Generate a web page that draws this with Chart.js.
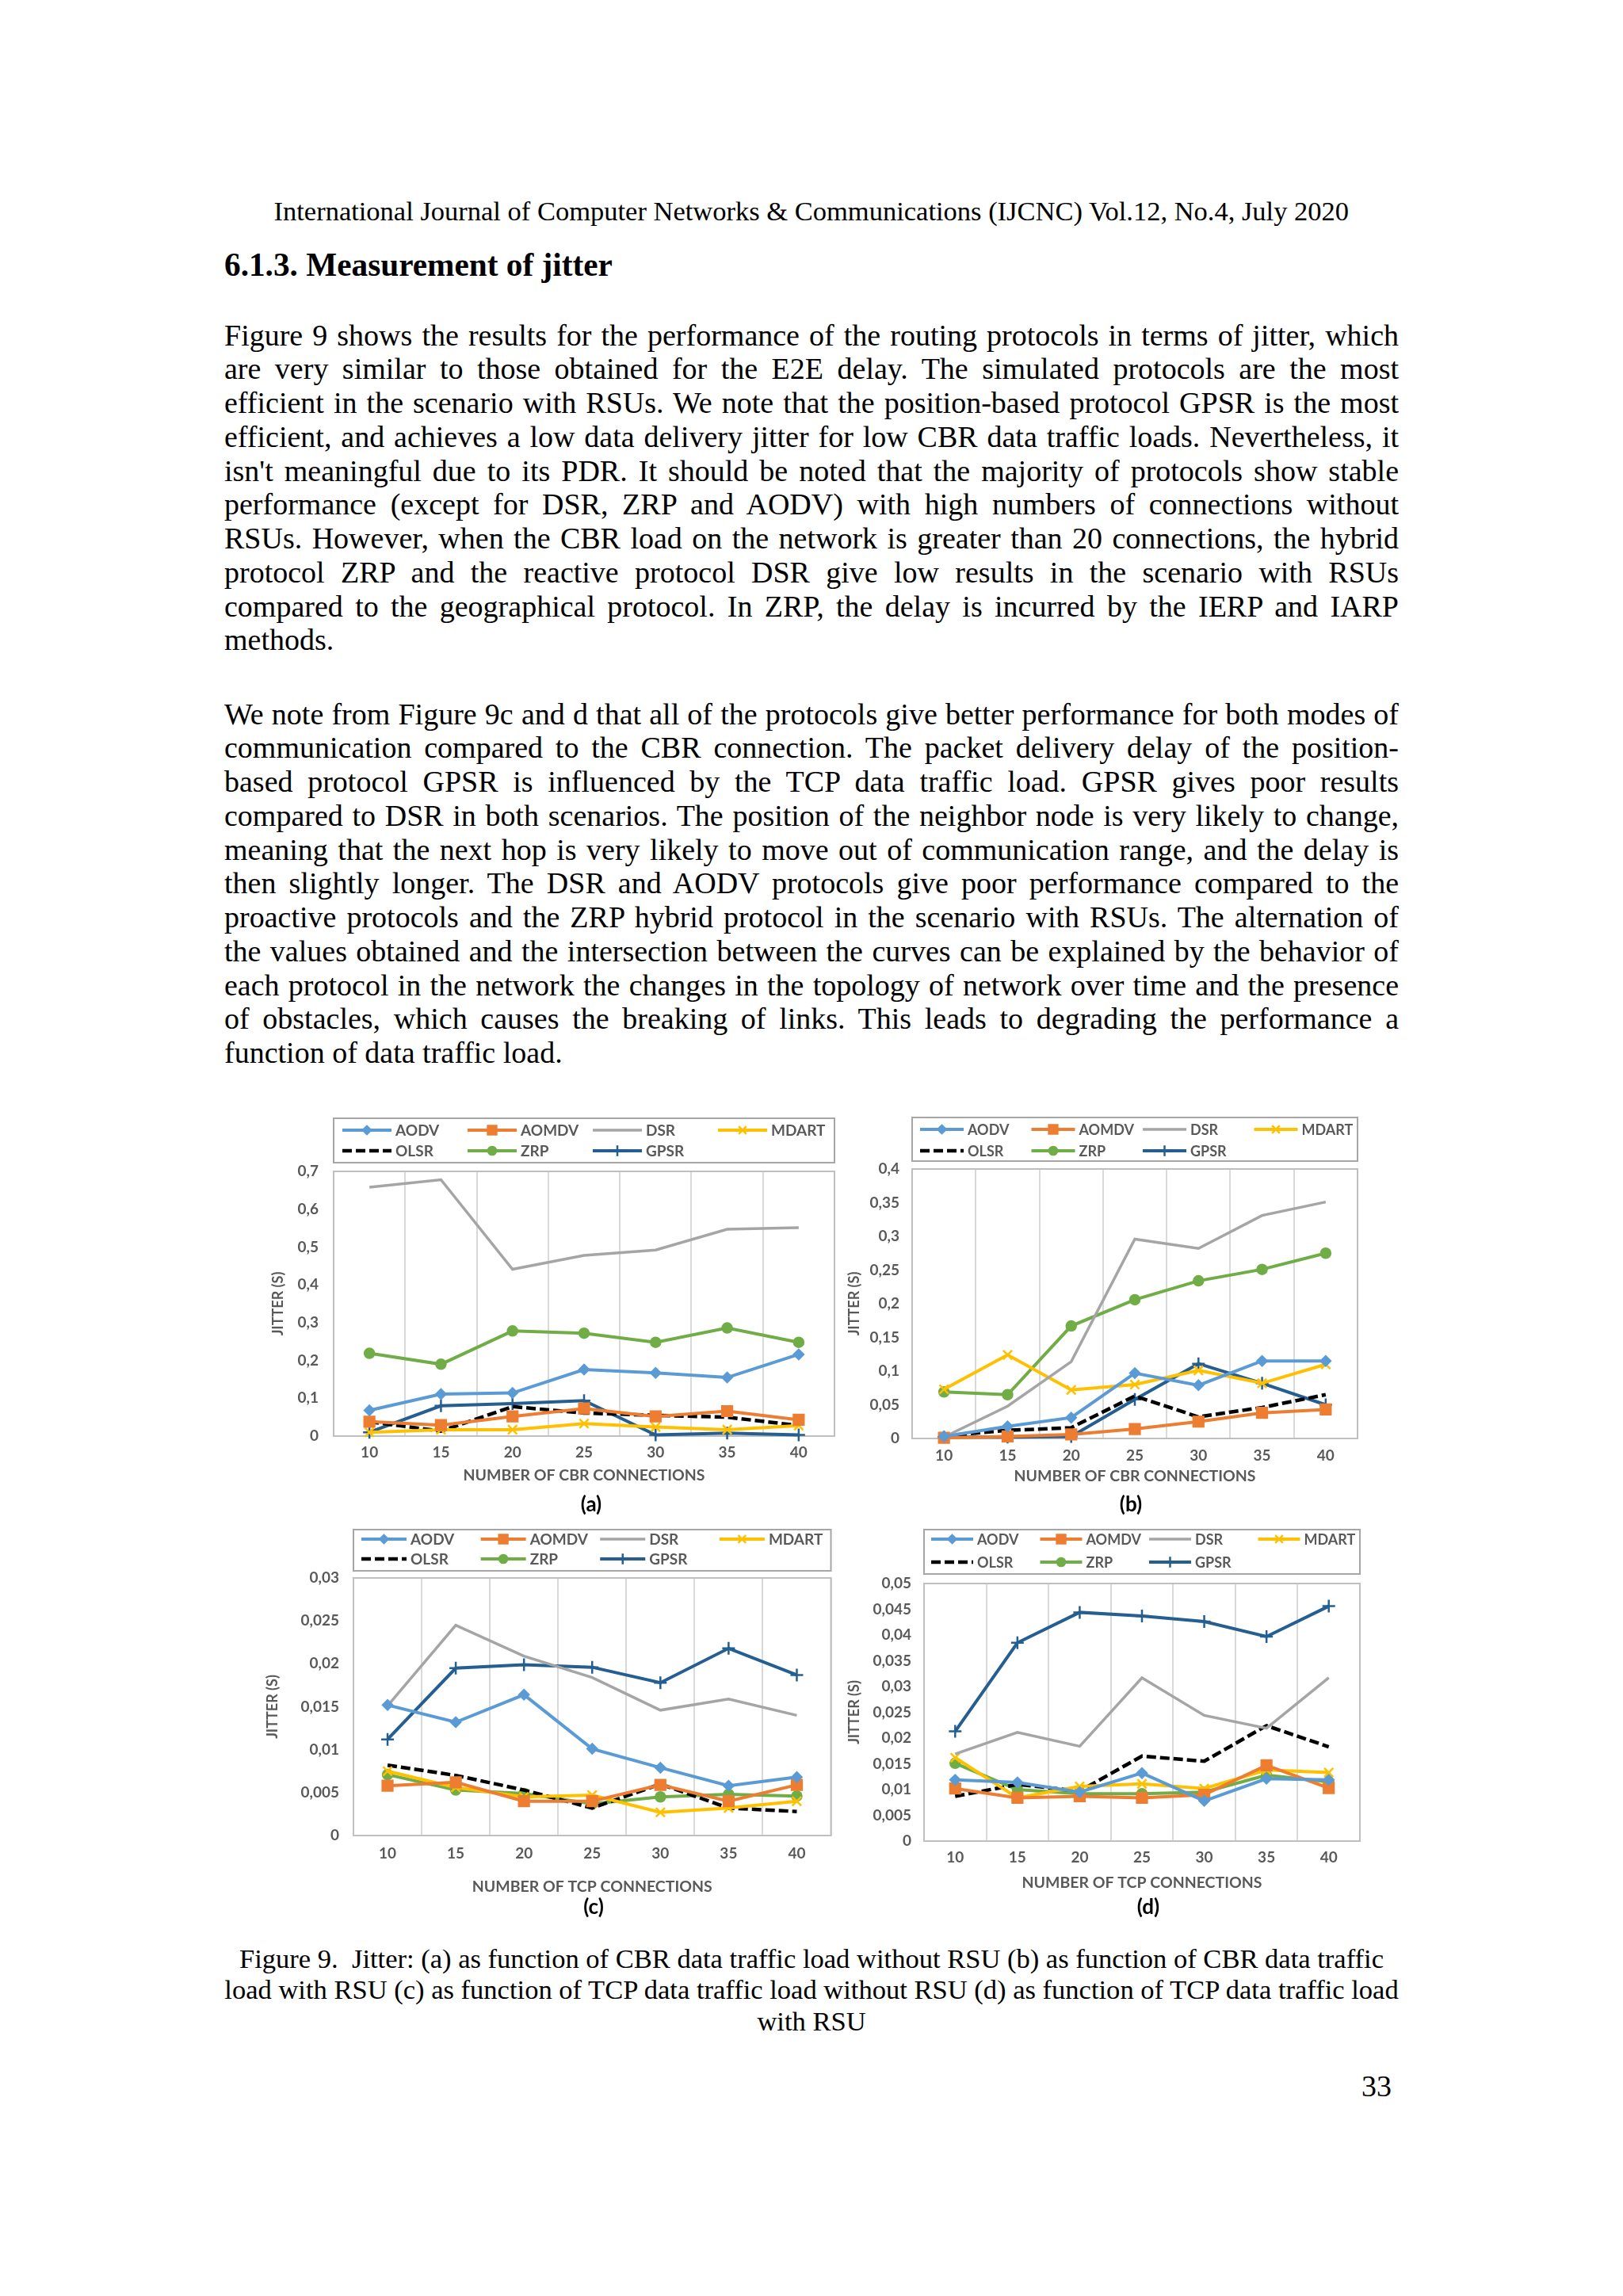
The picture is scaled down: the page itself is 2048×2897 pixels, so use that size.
<!DOCTYPE html>
<html lang="en">
<head>
<meta charset="UTF-8">
<title>Figure 9 - Jitter</title>
<script src="https://cdn.jsdelivr.net/npm/chart.js"></script>
<style>
  html, body { margin: 0; padding: 0; background: #fff; }
  #page { position: relative; width: 2048px; height: 2897px; overflow: hidden;
          font-family: "Liberation Serif", "Times New Roman", serif; color: #000; }
  .abs { position: absolute; white-space: pre; line-height: 1.15; }
  .line { position: absolute; left: 283px; width: 1482px; height: 42.75px; line-height: 42.75px; }
  .just { text-align: justify; text-align-last: justify; }
  canvas { position: absolute; }
  .tag { position: absolute; font-family: Lato, sans-serif; font-weight: bold; font-size: 26px;
         transform: translate(-50%, -50%); white-space: nowrap; }
</style>
</head>
<body>
<div id="page"></div>
<script>
// x categories and series order (same for all four panels)
const connections = ['10', '15', '20', '25', '30', '35', '40'];
const protocols = ['AODV', 'AOMDV', 'DSR', 'MDART', 'OLSR', 'ZRP', 'GPSR'];

// values per protocol, in the order above
const jitterCbrNoRsu = [
  [0.068, 0.111, 0.114, 0.176, 0.167, 0.155, 0.216],
  [0.038, 0.029, 0.052, 0.073, 0.052, 0.066, 0.043],
  [0.658, 0.678, 0.441, 0.478, 0.492, 0.547, 0.551],
  [0.010, 0.017, 0.017, 0.033, 0.024, 0.017, 0.028],
  [0.038, 0.013, 0.078, 0.061, 0.055, 0.050, 0.028],
  [0.219, 0.190, 0.278, 0.272, 0.248, 0.286, 0.248],
  [0.010, 0.080, 0.086, 0.094, 0.003, 0.008, 0.003]
];
const jitterCbrRsu = [
  [0.003, 0.018, 0.031, 0.097, 0.079, 0.115, 0.115],
  [0.001, 0.003, 0.006, 0.014, 0.025, 0.038, 0.043],
  [0.002, 0.048, 0.114, 0.296, 0.282, 0.331, 0.351],
  [0.073, 0.124, 0.072, 0.080, 0.101, 0.082, 0.110],
  [0.004, 0.012, 0.016, 0.063, 0.032, 0.046, 0.065],
  [0.069, 0.065, 0.167, 0.206, 0.234, 0.251, 0.275],
  [0.002, 0.002, 0.003, 0.058, 0.111, 0.082, 0.050]
];
const jitterTcpNoRsu = [
  [0.0152, 0.0132, 0.0164, 0.0101, 0.0079, 0.0058, 0.0068],
  [0.0058, 0.0062, 0.0040, 0.0040, 0.0059, 0.0040, 0.0059],
  [0.0151, 0.0245, 0.0209, 0.0184, 0.0146, 0.0159, 0.0140],
  [0.0075, 0.0056, 0.0045, 0.0047, 0.0027, 0.0032, 0.0040],
  [0.0082, 0.0070, 0.0053, 0.0032, 0.0060, 0.0032, 0.0028],
  [0.0071, 0.0053, 0.0049, 0.0037, 0.0045, 0.0048, 0.0046],
  [0.0112, 0.0195, 0.0199, 0.0196, 0.0178, 0.0218, 0.0187]
];
const jitterTcpRsu = [
  [0.0119, 0.0114, 0.0095, 0.0132, 0.0078, 0.0121, 0.0119],
  [0.0102, 0.0084, 0.0087, 0.0084, 0.0090, 0.0147, 0.0103],
  [0.0169, 0.0211, 0.0184, 0.0317, 0.0244, 0.0219, 0.0317],
  [0.0162, 0.0084, 0.0106, 0.0111, 0.0102, 0.0138, 0.0133],
  [0.0087, 0.0110, 0.0097, 0.0165, 0.0155, 0.0224, 0.0183],
  [0.0151, 0.0100, 0.0092, 0.0092, 0.0095, 0.0128, 0.0115],
  [0.0213, 0.0385, 0.0444, 0.0437, 0.0426, 0.0397, 0.0456]
];

// y axis ranges
const yMaxes = [0.7, 0.4, 0.03, 0.05];
const yStepSizes = [0.1, 0.05, 0.005, 0.005];
const xTitles = ['NUMBER OF CBR CONNECTIONS', 'NUMBER OF CBR CONNECTIONS',
                 'NUMBER OF TCP CONNECTIONS', 'NUMBER OF TCP CONNECTIONS'];
const panelTags = ['(a)', '(b)', '(c)', '(d)'];

// series styles
const seriesColors = ['#5B9BD5', '#ED7D31', '#A5A5A5', '#FFC000', '#000000', '#70AD47', '#255E91'];
const markerStyles = ['rectRot', 'rect', false, 'crossRot', false, 'circle', 'cross'];
const markerSizes = [6, 9, 0, 8, 0, 6, 8];
const lineWidths = [4, 4, 3.5, 4, 4.5, 4, 4];

const page = document.getElementById('page');
const gray = '#595959';
const chartFont = 'Lato';

// ---------- text of the page ----------
const para1 = [
  'Figure 9 shows the results for the performance of the routing protocols in terms of jitter, which',
  'are very similar to those obtained for the E2E delay. The simulated protocols are the most',
  'efficient in the scenario with RSUs. We note that the position-based protocol GPSR is the most',
  'efficient, and achieves a low data delivery jitter for low CBR data traffic loads. Nevertheless, it',
  "isn't meaningful due to its PDR. It should be noted that the majority of protocols show stable",
  'performance (except for DSR, ZRP and AODV) with high numbers of connections without',
  'RSUs. However, when the CBR load on the network is greater than 20 connections, the hybrid',
  'protocol ZRP and the reactive protocol DSR give low results in the scenario with RSUs',
  'compared to the geographical protocol. In ZRP, the delay is incurred by the IERP and IARP',
  'methods.'
];
const para2 = [
  'We note from Figure 9c and d that all of the protocols give better performance for both modes of',
  'communication compared to the CBR connection. The packet delivery delay of the position-',
  'based protocol GPSR is influenced by the TCP data traffic load. GPSR gives poor results',
  'compared to DSR in both scenarios. The position of the neighbor node is very likely to change,',
  'meaning that the next hop is very likely to move out of communication range, and the delay is',
  'then slightly longer. The DSR and AODV protocols give poor performance compared to the',
  'proactive protocols and the ZRP hybrid protocol in the scenario with RSUs. The alternation of',
  'the values obtained and the intersection between the curves can be explained by the behavior of',
  'each protocol in the network the changes in the topology of network over time and the presence',
  'of obstacles, which causes the breaking of links. This leads to degrading the performance a',
  'function of data traffic load.'
];
const caption = [
  'Figure 9.  Jitter: (a) as function of CBR data traffic load without RSU (b) as function of CBR data traffic',
  'load with RSU (c) as function of TCP data traffic load without RSU (d) as function of TCP data traffic load',
  'with RSU'
];

function addText(text, size, bold) {
  const el = document.createElement('div');
  el.className = 'abs';
  el.textContent = text;
  el.style.fontSize = size + 'px';
  if (bold) el.style.fontWeight = 'bold';
  page.appendChild(el);
  return el;
}
// font size that makes the text span the given width
function fitSize(text, width, bold) {
  const probe = addText(text, 100, bold);
  const w = probe.getBoundingClientRect().width;
  probe.remove();
  return 100 * width / w;
}
function place(el, size, left, center) {
  el.style.left = left + 'px';
  el.style.top = (center - 0.61 * size) + 'px';
}

const headerText = 'International Journal of Computer Networks & Communications (IJCNC) Vol.12, No.4, July 2020';
const headerSize = fitSize(headerText, 1357);
place(addText(headerText, headerSize), headerSize, 345.5, 268);

const headSize = fitSize('6.1.3. Measurement of jitter', 490, true);
place(addText('6.1.3. Measurement of jitter', headSize, true), headSize, 283, 336);

// body size: the tightest justified line must fit the column
let bodySize = 38;
[para1.slice(0, -1), para2.slice(0, -1)].flat().forEach(t => {
  bodySize = Math.min(bodySize, fitSize(t, 1479));
});
function addPara(lines, firstCenter) {
  lines.forEach((t, i) => {
    const el = document.createElement('div');
    el.className = 'line' + (i < lines.length - 1 ? ' just' : '');
    el.textContent = t;
    el.style.fontSize = bodySize + 'px';
    el.style.top = (firstCenter + i * 42.75 - 25.5) + 'px';
    page.appendChild(el);
  });
}
addPara(para1, 427);
addPara(para2, 905);

const capSize = fitSize(caption[1], 1482);
[2473, 2512, 2552].forEach((c, i) => {
  const el = addText(caption[i], capSize);
  const w = el.getBoundingClientRect().width;
  place(el, capSize, 1024 - w / 2, c);
});
const num = addText('33', bodySize);
place(num, bodySize, 1756 - num.getBoundingClientRect().width, 2634);

// ---------- charts ----------
const panels = [
  { left: 330, top: 1400, w: 740, h: 520, padTop: 78, padRight: 17, yAxisW: 91, xAxisH: 108,
    yTickPad: 19, xTickPad: 9, yTitlePad: 10, xTitlePad: 47, legendFont: 19,
    legendTop: 11, legendH: 56, rowY: [15, 41], inset: 11, lineLen: 62, tagX: 746, tagY: 1897 },
  { left: 1060, top: 1400, w: 680, h: 520, padTop: 75, padRight: 27, yAxisW: 91, xAxisH: 105,
    yTickPad: 16, xTickPad: 10, yTitlePad: 7, xTitlePad: 46, legendFont: 18,
    legendTop: 10, legendH: 55, rowY: [15, 42], inset: 10, lineLen: 55, tagX: 1427, tagY: 1897 },
  { left: 320, top: 1920, w: 740, h: 500, padTop: 71, padRight: 11, yAxisW: 126, xAxisH: 104,
    yTickPad: 18, xTickPad: 11, yTitlePad: 13, xTitlePad: 28, legendFont: 19,
    legendTop: 10, legendH: 52, rowY: [12, 37], inset: 10, lineLen: 57, tagX: 749, tagY: 2405 },
  { left: 1060, top: 1920, w: 680, h: 500, padTop: 78, padRight: 24, yAxisW: 106, xAxisH: 97,
    yTickPad: 16, xTickPad: 9, yTitlePad: 7, xTitlePad: 33, legendFont: 18,
    legendTop: 10, legendH: 56, rowY: [12, 41], inset: 9, lineLen: 53, tagX: 1449, tagY: 2405 }
];
const panelValues = [jitterCbrNoRsu, jitterCbrRsu, jitterTcpNoRsu, jitterTcpRsu];

// grey frame round the plot area
const plotFrame = {
  id: 'plotFrame',
  beforeDatasetsDraw(chart) {
    const a = chart.chartArea, ctx = chart.ctx;
    ctx.save();
    ctx.strokeStyle = '#BFBFBF';
    ctx.lineWidth = 2;
    ctx.strokeRect(a.left, a.top, a.right - a.left, a.bottom - a.top);
    ctx.restore();
  }
};

// Excel style legend: boxed, 4 columns x 2 rows
const boxLegend = {
  id: 'boxLegend',
  afterDraw(chart, args, opts) {
    const ctx = chart.ctx, a = chart.chartArea;
    const x0 = a.left, w = a.right - a.left;
    ctx.save();
    ctx.strokeStyle = '#A6A6A6';
    ctx.lineWidth = 2;
    ctx.strokeRect(x0, opts.top, w, opts.height);
    const colW = w / 4;
    chart.data.datasets.forEach((ds, i) => {
      const lx = x0 + opts.inset + (i % 4) * colW;
      const ly = opts.top + opts.rowY[i < 4 ? 0 : 1];
      ctx.strokeStyle = ds.borderColor;
      ctx.lineWidth = ds.borderWidth;
      ctx.setLineDash(ds.borderDash);
      ctx.beginPath();
      ctx.moveTo(lx, ly);
      ctx.lineTo(lx + opts.lineLen, ly);
      ctx.stroke();
      ctx.setLineDash([]);
      if (ds.pointStyle && Chart.helpers && Chart.helpers.drawPoint) {
        ctx.fillStyle = ds.pointBackgroundColor;
        ctx.strokeStyle = ds.borderColor;
        ctx.lineWidth = ds.pointBorderWidth;
        Chart.helpers.drawPoint(ctx, { pointStyle: ds.pointStyle, radius: ds.pointRadius * 0.85,
          rotation: 0, borderWidth: ds.pointBorderWidth }, lx + opts.lineLen / 2, ly);
      }
      ctx.fillStyle = gray;
      ctx.font = 'bold ' + opts.font + 'px ' + chartFont;
      ctx.textAlign = 'left';
      ctx.textBaseline = 'middle';
      ctx.fillText(ds.label, lx + opts.lineLen + 5, ly + 1);
    });
    ctx.restore();
  }
};

function commaNum(v) {
  return String(parseFloat(v.toFixed(4))).replace('.', ',');
}

panels.forEach((g, p) => {
  const cv = document.createElement('canvas');
  cv.width = g.w; cv.height = g.h;
  cv.style.left = g.left + 'px';
  cv.style.top = g.top + 'px';
  cv.style.width = g.w + 'px';
  cv.style.height = g.h + 'px';
  page.appendChild(cv);

  const tag = document.createElement('div');
  tag.className = 'tag';
  tag.textContent = panelTags[p];
  tag.style.left = g.tagX + 'px';
  tag.style.top = g.tagY + 'px';
  page.appendChild(tag);

  const datasets = protocols.map((name, i) => ({
    label: name,
    data: panelValues[p][i],
    borderColor: seriesColors[i],
    backgroundColor: seriesColors[i],
    pointBackgroundColor: seriesColors[i],
    borderWidth: lineWidths[i],
    borderDash: i === 4 ? [12, 5] : [],
    pointStyle: markerStyles[i],
    pointRadius: markerSizes[i],
    pointBorderWidth: 2.5,
    tension: 0,
    fill: false,
    clip: 14
  }));

  new Chart(cv, {
    type: 'line',
    data: { labels: connections, datasets: datasets },
    options: {
      responsive: false,
      animation: false,
      layout: { padding: { top: g.padTop, right: g.padRight, left: 0, bottom: 0 } },
      plugins: {
        legend: { display: false },
        tooltip: { enabled: false },
        boxLegend: { top: g.legendTop, height: g.legendH, rowY: g.rowY, inset: g.inset,
                     lineLen: g.lineLen, font: g.legendFont }
      },
      scales: {
        x: {
          offset: true,
          grid: { offset: true, color: '#D9D9D9', lineWidth: 2, drawTicks: false },
          border: { display: false },
          ticks: { color: gray, padding: g.xTickPad, font: { family: chartFont, size: 19, weight: 'bold' } },
          title: { display: true, text: xTitles[p], color: gray,
                   font: { family: chartFont, size: 19.5, weight: 'bold' },
                   padding: { top: 0, bottom: g.xTitlePad } },
          afterFit: s => { s.height = g.xAxisH; }
        },
        y: {
          min: 0,
          max: yMaxes[p],
          grid: { display: false, drawTicks: false },
          border: { display: false },
          ticks: { stepSize: yStepSizes[p], color: gray, padding: g.yTickPad,
                   font: { family: chartFont, size: 19, weight: 'bold' },
                   callback: v => commaNum(v) },
          title: { display: true, text: 'JITTER (S)', color: gray,
                   font: { family: chartFont, size: 18, weight: 'bold' },
                   padding: { top: g.yTitlePad, bottom: 0 } },
          afterFit: s => { s.width = g.yAxisW; }
        }
      }
    },
    plugins: [plotFrame, boxLegend]
  });
});
</script>
</body>
</html>
